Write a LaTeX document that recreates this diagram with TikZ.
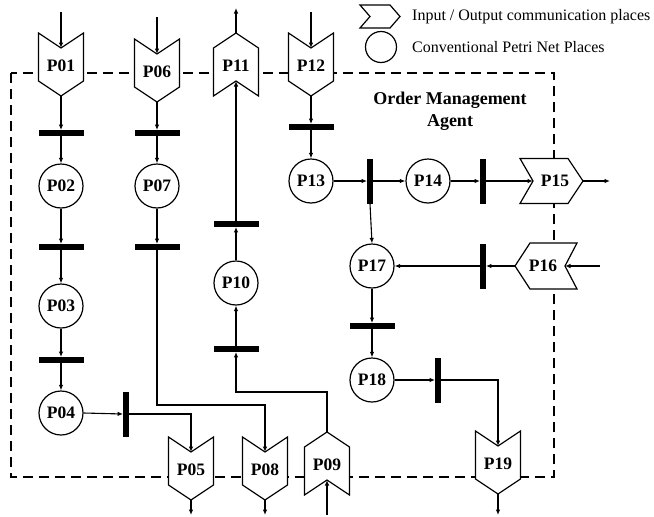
\documentclass[tikz,border=0pt]{standalone}
\usepackage{fontspec}
\setmainfont{Liberation Serif}
\usetikzlibrary{arrows.meta}

\tikzset{
  port/.style={draw=black, fill=white, line width=1.2pt, line join=miter},
  place/.style={circle, draw=black, fill=white, line width=1.2pt, minimum size=44pt, inner sep=0pt,
    font=\bfseries\fontsize{17.5}{20}\selectfont},
  lbl/.style={inner sep=0pt, font=\bfseries\fontsize{17.5}{20}\selectfont},
  hbar/.style={rectangle, fill=black, minimum width=45pt, minimum height=5.5pt, inner sep=0pt},
  vbar/.style={rectangle, fill=black, minimum width=5.5pt, minimum height=45pt, inner sep=0pt},
  flow/.style={line width=1.1pt, -{Latex[length=5.5pt,width=4.5pt]}},
  boundary/.style={line width=2.8pt, dash pattern=on 10pt off 6pt},
  legendtext/.style={anchor=west, inner sep=0pt, font=\fontsize{16}{19}\selectfont},
  % downward communication place: notch on top, point at bottom
  pics/portdown/.style={code={
    \draw[port] (-22.5,0) -- (0,15) -- (22.5,0) -- (22.5,48) -- (0,63) -- (-22.5,48) -- cycle;
    \coordinate (-in) at (0,15);
    \coordinate (-out) at (0,63);
    \node[lbl] (-lbl) at (0,33) {#1};
  }},
  % upward communication place: point on top, notch at bottom
  pics/portup/.style={code={
    \draw[port] (0,0) -- (22.5,15) -- (22.5,63) -- (0,48) -- (-22.5,63) -- (-22.5,15) -- cycle;
    \coordinate (-in) at (0,48);
    \coordinate (-out) at (0,0);
    \node[lbl] (-lbl) at (0,33) {#1};
  }},
  % rightward communication place
  pics/portright/.style={code={
    \draw[port] (0,-22.5) -- (48,-22.5) -- (63,0) -- (48,22.5) -- (0,22.5) -- (13,0) -- cycle;
    \coordinate (-in) at (13,0);
    \coordinate (-out) at (63,0);
    \node[lbl] (-lbl) at (35,0) {#1};
  }},
  % leftward communication place
  pics/portleft/.style={code={
    \draw[port] (0,0) -- (15,-23) -- (62,-23) -- (50,0) -- (62,23) -- (15,23) -- cycle;
    \coordinate (-in) at (50,0);
    \coordinate (-out) at (0,0);
    \node[lbl] (-lbl) at (28,0) {#1};
  }},
}

\begin{document}
\begin{tikzpicture}[x=1pt, y=-1pt]
\useasboundingbox (0,0) rectangle (654,517);
\fill[white] (0,0) rectangle (654,517);

% agent boundary
\draw[boundary] (11,73) rectangle (554,477);
\node[font=\bfseries\fontsize{18}{22}\selectfont, align=center] (agent) at (450,111) {Order Management\\Agent};

% legend
\draw[port] (360,5) -- (390,5) -- (400,16.5) -- (390,28) -- (360,28) -- (370,16.5) -- cycle;
\node[legendtext] (leg1) at (412,17) {Input / Output communication places};
\draw[line width=1.2pt] (381,47) circle (15.5);
\node[legendtext] (leg2) at (412,47) {Conventional Petri Net Places};

% communication places
\pic (P01) at (61,33) {portdown=P01};
\pic (P06) at (157,39) {portdown=P06};
\pic (P12) at (311,33) {portdown=P12};
\pic (P05) at (191,437) {portdown=P05};
\pic (P08) at (265,437) {portdown=P08};
\pic (P19) at (498,431) {portdown=P19};
\pic (P11) at (236,33) {portup=P11};
\pic (P09) at (327,432) {portup=P09};
\pic (P15) at (520,181) {portright=P15};
\pic (P16) at (515,266) {portleft=P16};

% conventional places
\node[place] (P02) at (61,186) {P02};
\node[place] (P03) at (61,306) {P03};
\node[place] (P04) at (61,413) {P04};
\node[place] (P07) at (157,186) {P07};
\node[place] (P10) at (236,283) {P10};
\node[place] (P13) at (311,181) {P13};
\node[place] (P14) at (428,181) {P14};
\node[place] (P17) at (372,266) {P17};
\node[place] (P18) at (372,380) {P18};

% transitions
\node[hbar] (t1) at (61,133) {};
\node[hbar] (t2) at (61,247) {};
\node[hbar] (t3) at (61,360) {};
\node[hbar] (t4) at (157,133) {};
\node[hbar] (t5) at (157,247) {};
\node[hbar] (t6) at (236,224) {};
\node[hbar] (t7) at (236,349) {};
\node[hbar] (t8) at (311,127) {};
\node[hbar] (t9) at (372,326) {};
\node[vbar] (t10) at (126,414) {};
\node[vbar] (t11) at (370,181) {};
\node[vbar] (t12) at (483,181) {};
\node[vbar] (t13) at (483,266) {};
\node[vbar] (t14) at (438,380) {};

% free ends of the external arcs
\coordinate (P01-src) at (61,12);
\coordinate (P06-src) at (157,17);
\coordinate (P12-src) at (311,12);
\coordinate (P09-src) at (327,515);
\coordinate (P16-src) at (600,266);
\coordinate (P11-dst) at (236,8);
\coordinate (P15-dst) at (610,181);
\coordinate (P05-dst) at (191,515);
\coordinate (P08-dst) at (265,515);
\coordinate (P19-dst) at (498,515);

% left chain
\draw[flow] (P01-src) -- (P01-in);
\draw[flow] (P01-out) -- (t1.north);
\draw[flow] (t1.south) -- (P02.north);
\draw[flow] (P02.south) -- (t2.north);
\draw[flow] (t2.south) -- (P03.north);
\draw[flow] (P03.south) -- (t3.north);
\draw[flow] (t3.south) -- (P04.north);
\draw[flow] (P04.east) -- (t10.west);
\draw[flow] (t10.east) -| (P05-in);
\draw[flow] (P05-out) -- (P05-dst);

% second chain
\draw[flow] (P06-src) -- (P06-in);
\draw[flow] (P06-out) -- (t4.north);
\draw[flow] (t4.south) -- (P07.north);
\draw[flow] (P07.south) -- (t5.north);
\draw[flow] (t5.south) -- (157,405) -| (P08-in);
\draw[flow] (P08-out) -- (P08-dst);

% upward chain
\draw[flow] (P09-src) -- (P09-in);
\draw[flow] (P09-out) -- (327,392) -| (t7.south);
\draw[flow] (t7.north) -- (P10.south);
\draw[flow] (P10.north) -- (t6.south);
\draw[flow] (t6.north) -- (P11-in);
\draw[flow] (P11-out) -- (P11-dst);

% right part
\draw[flow] (P12-src) -- (P12-in);
\draw[flow] (P12-out) -- (t8.north);
\draw[flow] (t8.south) -- (P13.north);
\draw[flow] (P13.east) -- (t11.west);
\draw[flow] (t11.east) -- (P14.west);
\draw[flow] (P14.east) -- (t12.west);
\draw[flow] (t12.east) -- (P15-in);
\draw[flow] (P15-out) -- (P15-dst);
\draw[flow] (t11.south) -- (P17.north);
\draw[flow] (P16-src) -- (P16-in);
\draw[flow] (P16-out) -- (t13.east);
\draw[flow] (t13.west) -- (P17.east);
\draw[flow] (P17.south) -- (t9.north);
\draw[flow] (t9.south) -- (P18.north);
\draw[flow] (P18.east) -- (t14.west);
\draw[flow] (t14.east) -| (P19-in);
\draw[flow] (P19-out) -- (P19-dst);
\end{tikzpicture}
\end{document}
